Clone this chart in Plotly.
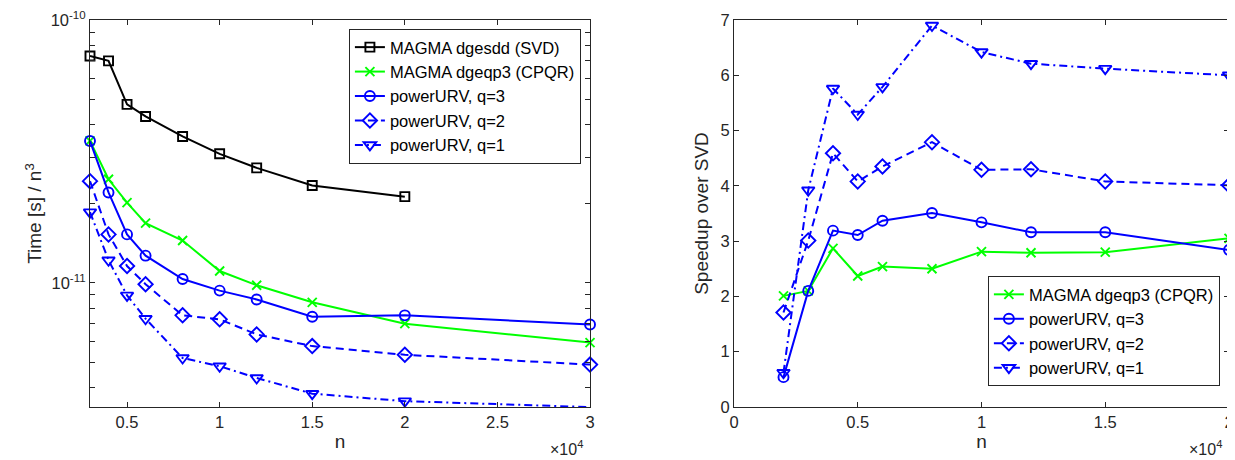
import plotly.graph_objects as go

# ---------------- data: left panel (Time [s] / n^3) ----------------
n_svd = [3000, 4000, 5000, 6000, 8000, 10000, 12000, 15000, 20000]
t_svd = [7.3e-11, 7.0e-11, 4.78e-11, 4.30e-11, 3.61e-11, 3.10e-11, 2.74e-11, 2.35e-11, 2.13e-11]

n_all = [3000, 4000, 5000, 6000, 8000, 10000, 12000, 15000, 20000, 30000]
t_cpqr = [3.47e-11, 2.48e-11, 2.02e-11, 1.69e-11, 1.45e-11, 1.11e-11, 9.8e-12, 8.44e-12, 7.0e-12, 5.93e-12]
t_q3 = [3.47e-11, 2.21e-11, 1.53e-11, 1.27e-11, 1.035e-11, 9.35e-12, 8.65e-12, 7.44e-12, 7.53e-12, 6.95e-12]
t_q2 = [2.44e-11, 1.53e-11, 1.16e-11, 9.89e-12, 7.53e-12, 7.27e-12, 6.37e-12, 5.75e-12, 5.33e-12, 4.89e-12]
t_q1 = [1.86e-11, 1.22e-11, 8.97e-12, 7.31e-12, 5.18e-12, 4.82e-12, 4.35e-12, 3.79e-12, 3.55e-12, 3.37e-12]

# ---------------- data: right panel (speedup over SVD) ----------------
n_sp = [2000, 3000, 4000, 5000, 6000, 8000, 10000, 12000, 15000, 20000]
s_cpqr = [2.01, 2.10, 2.87, 2.37, 2.54, 2.50, 2.81, 2.79, 2.80, 3.05]
s_q3 = [0.54, 2.10, 3.19, 3.11, 3.37, 3.51, 3.34, 3.16, 3.16, 2.84]
s_q2 = [1.71, 3.01, 4.59, 4.08, 4.35, 4.79, 4.29, 4.30, 4.08, 4.01]
s_q1 = [0.62, 3.92, 5.76, 5.29, 5.79, 6.90, 6.42, 6.21, 6.12, 6.00]

# ---------------- tick labels ----------------
xl_vals = [5000, 10000, 15000, 20000, 25000, 30000]
xl_text = ["0.5", "1", "1.5", "2", "2.5", "3"]
xr_vals = [0, 5000, 10000, 15000, 20000]
xr_text = ["0", "0.5", "1", "1.5", "2"]
yl_vals = [4e-12, 5e-12, 6e-12, 7e-12, 8e-12, 9e-12, 1e-11, 2e-11, 3e-11, 4e-11,
           5e-11, 6e-11, 7e-11, 8e-11, 9e-11, 1e-10]
yl_text = ["", "", "", "", "", "", "10<sup>-11</sup>", "", "", "", "", "", "", "", "", "10<sup>-10</sup>"]
yr_vals = [0, 1, 2, 3, 4, 5, 6, 7]

labels = ["MAGMA dgesdd (SVD)", "MAGMA dgeqp3 (CPQR)", "powerURV, q=3", "powerURV, q=2", "powerURV, q=1"]

BLACK = "#000000"
GREEN = "#00ff00"
BLUE = "#0000ff"
AX = "#262626"
FONT = "Liberation Sans, Arial, sans-serif"
DASH = "8px,5px"
DASHDOT = "8px,4px,2px,4px"

fig = go.Figure()

def add(x, y, name, color, symbol, size, dash, xa, ya, legend):
    fig.add_trace(go.Scatter(
        x=x, y=y, name=name, mode="lines+markers",
        line=dict(color=color, width=2, dash=dash),
        marker=dict(symbol=symbol, size=size, color=color,
                    line=dict(color=color, width=1.9)),
        xaxis=xa, yaxis=ya, legend=legend, cliponaxis=False))

# left panel
add(n_svd, t_svd, labels[0], BLACK, "square-open", 9, "solid", "x", "y", "legend")
add(n_all, t_cpqr, labels[1], GREEN, "x-thin-open", 9, "solid", "x", "y", "legend")
add(n_all, t_q3, labels[2], BLUE, "circle-open", 10, "solid", "x", "y", "legend")
add(n_all, t_q2, labels[3], BLUE, "diamond-open", 11, DASH, "x", "y", "legend")
add(n_all, t_q1, labels[4], BLUE, "triangle-down-open", 11, DASHDOT, "x", "y", "legend")

# right panel
add(n_sp, s_cpqr, labels[1], GREEN, "x-thin-open", 9, "solid", "x2", "y2", "legend2")
add(n_sp, s_q3, labels[2], BLUE, "circle-open", 10, "solid", "x2", "y2", "legend2")
add(n_sp, s_q2, labels[3], BLUE, "diamond-open", 11, DASH, "x2", "y2", "legend2")
add(n_sp, s_q1, labels[4], BLUE, "triangle-down-open", 11, DASHDOT, "x2", "y2", "legend2")

axis_common = dict(showline=True, linecolor=AX, linewidth=1, mirror="ticks",
                   ticks="inside", ticklen=5, tickwidth=1, tickcolor=AX,
                   showgrid=False, zeroline=False, automargin=False,
                   tickfont=dict(family=FONT, size=16.5, color=AX),
                   title_font=dict(family=FONT, size=19, color=AX))

# the page body adds an 8px margin, so the figure is sized 8px smaller
fig.update_layout(
    width=1227, height=452,
    margin=dict(l=82, r=6, t=12, b=53),
    plot_bgcolor="white", paper_bgcolor="white",
    font=dict(family=FONT, size=16, color=AX),
    xaxis=dict(domain=[0, 0.439], range=[3000, 30000], tickvals=xl_vals, ticktext=xl_text,
               title=dict(text="n", standoff=4), anchor="y", **axis_common),
    yaxis=dict(type="log", range=[-11.472, -9.9995], tickvals=yl_vals, ticktext=yl_text,
               title=dict(text="Time [s] / n<sup>3</sup>", standoff=3), anchor="x", **axis_common),
    xaxis2=dict(domain=[0.5654, 1], range=[0, 20000], tickvals=xr_vals, ticktext=xr_text,
                title=dict(text="n", standoff=4), anchor="y2", **axis_common),
    yaxis2=dict(range=[0, 7], tickvals=yr_vals,
                title=dict(text="Speedup over SVD", standoff=6), anchor="x2", **axis_common),
    legend=dict(x=0.431, y=0.977, xanchor="right", yanchor="top",
                bgcolor="white", bordercolor=AX, borderwidth=1,
                font=dict(family=FONT, size=16.5, color="#000000"),
                tracegroupgap=0, itemwidth=30),
    legend2=dict(x=0.992, y=0.054, xanchor="right", yanchor="bottom",
                 bgcolor="white", bordercolor=AX, borderwidth=1,
                 font=dict(family=FONT, size=16.5, color="#000000"),
                 tracegroupgap=0, itemwidth=30),
)

# x10^4 exponent labels
for xref in ("x domain", "x2 domain"):
    fig.add_annotation(text="×10<sup>4</sup>", xref=xref, yref="paper", x=1.0, y=0,
                       xanchor="right", yanchor="bottom", yshift=-53, xshift=-5, showarrow=False,
                       font=dict(family=FONT, size=16, color=AX))

fig.write_html("out.html")
